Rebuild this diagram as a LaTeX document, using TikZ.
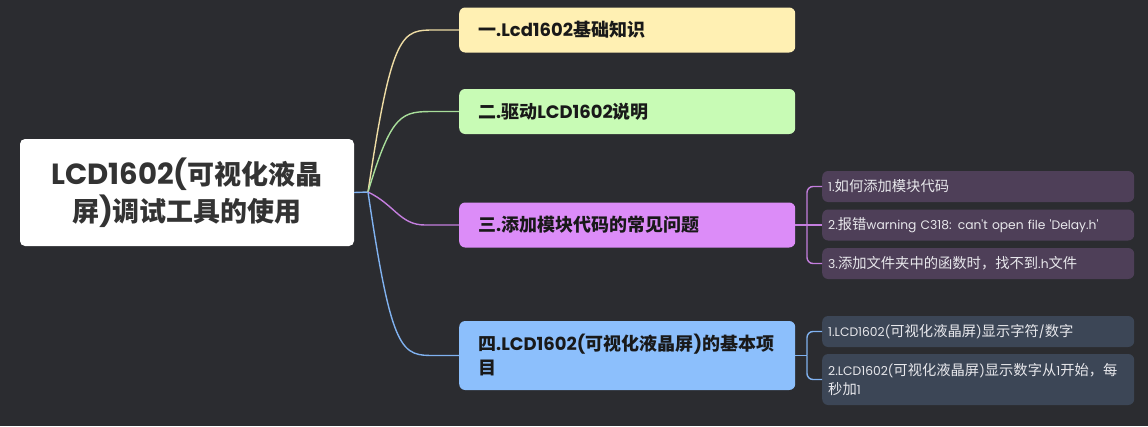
\documentclass[tikz,border=0pt]{standalone}
\usepackage{fontspec}
\setmainfont{Poppins}
\newfontfamily\cjk{Noto Sans CJK SC}
\newfontfamily\latR[Scale=1.08]{Poppins}
\newfontfamily\latS[Scale=0.86]{Poppins}
\newcommand\Z[1]{{\cjk #1}}
\newcommand\nohy{\hyphenpenalty=10000 \exhyphenpenalty=10000 }
\definecolor{bg}{HTML}{2B2C30}
\definecolor{cY}{HTML}{FFF0B3}
\definecolor{cG}{HTML}{C8FBB5}
\definecolor{cP}{HTML}{DC8CF8}
\definecolor{cB}{HTML}{8CBFFC}
\definecolor{lY}{HTML}{EEDCA4}
\definecolor{lG}{HTML}{A8DE9A}
\definecolor{lP}{HTML}{C47EDE}
\definecolor{lB}{HTML}{80B2F0}
\definecolor{sP}{HTML}{4E3F58}
\definecolor{sB}{HTML}{3C4656}
\definecolor{stxt}{HTML}{E8E8EC}
\definecolor{rtxt}{HTML}{333333}
\begin{document}
\begin{tikzpicture}[x=1pt,y=-1pt,
  rootbox/.style={fill=white,rounded corners=5pt,minimum width=334pt,minimum height=107pt,
    align=center,text=rtxt,font=\fontsize{27}{37}\selectfont\bfseries\latR,inner sep=0pt},
  branchbox/.style={rounded corners=6pt,anchor=west,text width=298pt,inner xsep=19pt,inner ysep=0pt,
    minimum height=45pt,align=left,text=black!90,font=\fontsize{18}{24}\selectfont\bfseries\nohy},
  subbox/.style={rounded corners=6pt,anchor=west,text width=300pt,inner xsep=6pt,inner ysep=0pt,
    minimum height=31pt,align=left,text=stxt,font=\fontsize{14.3}{19}\selectfont\latS\nohy},
  link/.style={line width=1.4pt}]
\fill[bg] (0,0) rectangle (1148,426);
\useasboundingbox (0,0) rectangle (1148,426);
\node[rootbox] (root) at (187,192.5) {LCD1602(\Z{可视化液晶}\\\Z{屏})\Z{调试工具的使用}};
\coordinate (J) at (368,192);
\node[branchbox,fill=cY] (b1) at (459,30) {\Z{一}.Lcd1602\Z{基础知识}};
\node[branchbox,fill=cG] (b2) at (459,111.5) {\Z{二}.\Z{驱动}LCD1602\Z{说明}};
\node[branchbox,fill=cP] (b3) at (459,225) {\Z{三}.\Z{添加模块代码的常见问题}};
\node[branchbox,fill=cB,minimum height=69pt] (b4) at (459,355.5) {\Z{四}.LCD1602(\Z{可视化液晶屏})\Z{的基本项}\\\Z{目}};
\node[subbox,fill=sP] (s1) at (822,186.5) {1.\Z{如何添加模块代码}};
\node[subbox,fill=sP] (s2) at (822,225) {2.\Z{报错}warning C318: can't open file 'Delay.h'};
\node[subbox,fill=sP] (s3) at (822,263.5) {3.\Z{添加文件夹中的函数时，找不到}.h\Z{文件}};
\node[subbox,fill=sB] (t1) at (822,331.5) {1.LCD1602(\Z{可视化液晶屏})\Z{显示字符}/\Z{数字}};
\node[subbox,fill=sB,minimum height=51pt] (t2) at (822,379.5) {2.LCD1602(\Z{可视化液晶屏})\Z{显示数字从}1\Z{开始，每}\\\Z{秒加}1};
\draw[link,lB] (root.east) -- (J);
\draw[link,lY] (J) .. controls (392,30) and (402,30) .. (435,30) -- (b1.west);
\draw[link,lG] (J) .. controls (392,111.5) and (402,111.5) .. (435,111.5) -- (b2.west);
\draw[link,lP] (J) .. controls (395,205) and (400,225) .. (425,225) -- (b3.west);
\draw[link,lB] (J) .. controls (392,355.5) and (402,355.5) .. (435,355.5) -- (b4.west);
\draw[link,lP] (b3.east) -- (s2.west);
\draw[link,lP,rounded corners=6pt] (s1.west) -| (807,225);
\draw[link,lP,rounded corners=6pt] (s3.west) -| (807,225);
\draw[link,lB,rounded corners=6pt] (t1.west) -| (807,355.5);
\draw[link,lB,rounded corners=6pt] (t2.west) -| (807,355.5);
\draw[link,lB] (b4.east) -- (807,355.5);
\end{tikzpicture}
\end{document}
